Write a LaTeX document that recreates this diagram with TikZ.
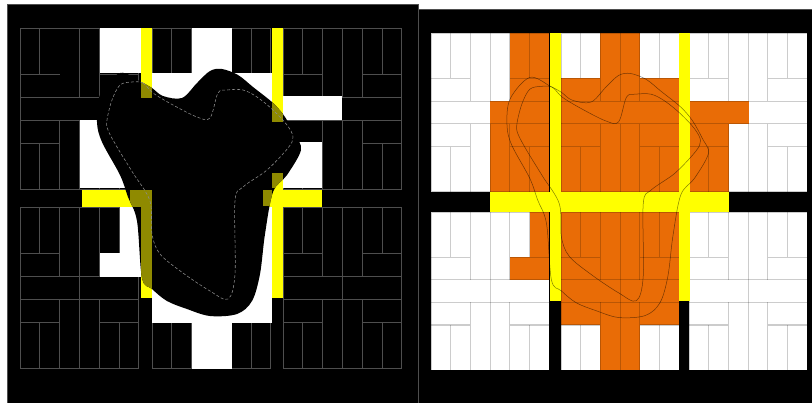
\documentclass[tikz,border=0pt]{standalone}
\usepackage{tikz}
\definecolor{naranja}{HTML}{E96C06}
\definecolor{amarillo}{HTML}{FFFF00}
\definecolor{oliva}{HTML}{8F8A00}
\definecolor{grisfondo}{HTML}{4E4E4E}
\newcommand{\manzana}[6]{%
  \begin{scope}[shift={(#1,#2)},x=#3pt,y=-#4pt]
  \draw (0,0) rectangle (6,7);
  \foreach \c/\a/\b in {1/0/2,2/#6/3,3/0/#5,4/0/3,5/0/2,2/4/7,3/4/7,4/4/7,1/5/7,5/5/7} \draw (\c,\a) -- (\c,\b);
  \foreach \r/\a/\b in {2/0/2,2/4/6,3/0/6,4/0/6,5/0/2,5/4/6} \draw (\a,\r) -- (\b,\r);
  \end{scope}}
\newcommand{\contornoext}{plot[smooth cycle,tension=.55] coordinates {(120,73) (141,82) (152,88) (163,96) (182,98) (197,83) (210,71) (222,69) (238,75) (253,87) (273,103) (285,117) (295,135) (301,150) (287,175) (273,192) (265,234) (260,274) (252,301) (237,314) (210,316) (187,309) (167,301) (152,289) (142,278) (137,221) (128,197) (120,175) (102,142) (97,122) (100,95)}}
\newcommand{\contornoint}{plot[smooth cycle,tension=.55] coordinates {(132,82) (143,83) (153,93) (173,105) (197,117) (210,118) (218,93) (227,90) (243,90) (257,97) (273,110) (287,125) (293,137) (288,148) (267,170) (243,187) (235,201) (235,274) (228,299) (210,291) (183,273) (160,254) (152,234) (150,201) (133,173) (117,147) (108,130) (107,120) (112,100) (120,85)}}
\begin{document}
\begin{tikzpicture}[
  x=1pt, y=-1pt,
  panel/.style={fill=black, draw=grisfondo, line width=0.8pt},
  claro/.style={fill=white},
  zona/.style={fill=naranja},
  via/.style={fill=amarillo},
  sombra/.style={fill=oliva},
  trazado/.style={grisfondo, line width=0.8pt},
  fino/.style={black, opacity=0.2, line width=1.1pt},
  punteado/.style={black!45!white, line width=0.55pt, densely dashed},
  curva/.style={black, opacity=0.5, line width=0.5pt}]
\useasboundingbox (0,0) rectangle (812,402);
\fill[white] (0,0) rectangle (812,402);
\draw[panel] (7,4) rectangle (418,403);
\draw[panel] (418,9) rectangle (813,403);
\begin{scope}[trazado]
\manzana{20}{28}{19.8}{23}{3}{3}
\foreach \x in {152,283} {\manzana{\x}{28}{19.8}{23}{3}{0}}
\foreach \x in {20,152,283} {\manzana{\x}{207}{19.8}{23}{4}{0}}
\end{scope}
\fill[claro] (100,28) rectangle (141,73);
\fill[claro] (80,120) rectangle (141,188);
\fill[claro] (192,28) rectangle (232,73);
\fill[claro] (152,73) rectangle (272,188);
\fill[claro] (283,96) rectangle (342,120);
\fill[claro] (283,142) rectangle (322,188);
\fill[claro] (120,207) rectangle (141,253);
\fill[claro] (100,253) rectangle (141,277);
\fill[claro] (152,207) rectangle (272,323);
\fill[claro] (192,323) rectangle (232,369);
\fill[via] (141,28) rectangle (152,298);
\fill[via] (272,28) rectangle (283,298);
\fill[via] (82,190) rectangle (322,207);
\fill[black] \contornoext;
\begin{scope}
\clip \contornoext;
\fill[sombra] (141,60) rectangle (152,98);
\fill[sombra] (272,90) rectangle (283,122);
\fill[sombra] (130,190) rectangle (152,207);
\fill[sombra] (141,207) rectangle (152,300);
\fill[sombra] (272,173) rectangle (283,188);
\fill[sombra] (263,190) rectangle (272,206);
\end{scope}
\draw[punteado] \contornoint;
\foreach \x in {431,561,689} {\fill[claro] (\x,33) rectangle +(118,159); \fill[claro] (\x,212) rectangle +(118,158);}
\fill[zona] (510,33) rectangle (549,101);
\fill[zona] (490,101) rectangle (549,192);
\fill[zona] (561,78) rectangle (679,192);
\fill[zona] (600,33) rectangle (640,78);
\fill[zona] (689,101) rectangle (749,124);
\fill[zona] (689,124) rectangle (729,192);
\fill[zona] (530,212) rectangle (549,257);
\fill[zona] (510,257) rectangle (549,280);
\fill[zona] (561,212) rectangle (679,325);
\fill[zona] (600,325) rectangle (640,370);
\begin{scope}[fino]
\foreach \x in {431,561,689} {\manzana{\x}{33}{19.7}{22.7}{3}{0} \manzana{\x}{212}{19.7}{22.6}{4}{0}}
\end{scope}
\fill[via] (549.5,33) rectangle (561,301);
\fill[via] (679,33) rectangle (690,301);
\fill[via] (490,192) rectangle (729,212);
\begin{scope}[shift={(411.3,5.3)},xscale=.987,yscale=.988]
\draw[curva] \contornoext;
\draw[curva] \contornoint;
\end{scope}
\end{tikzpicture}
\end{document}
